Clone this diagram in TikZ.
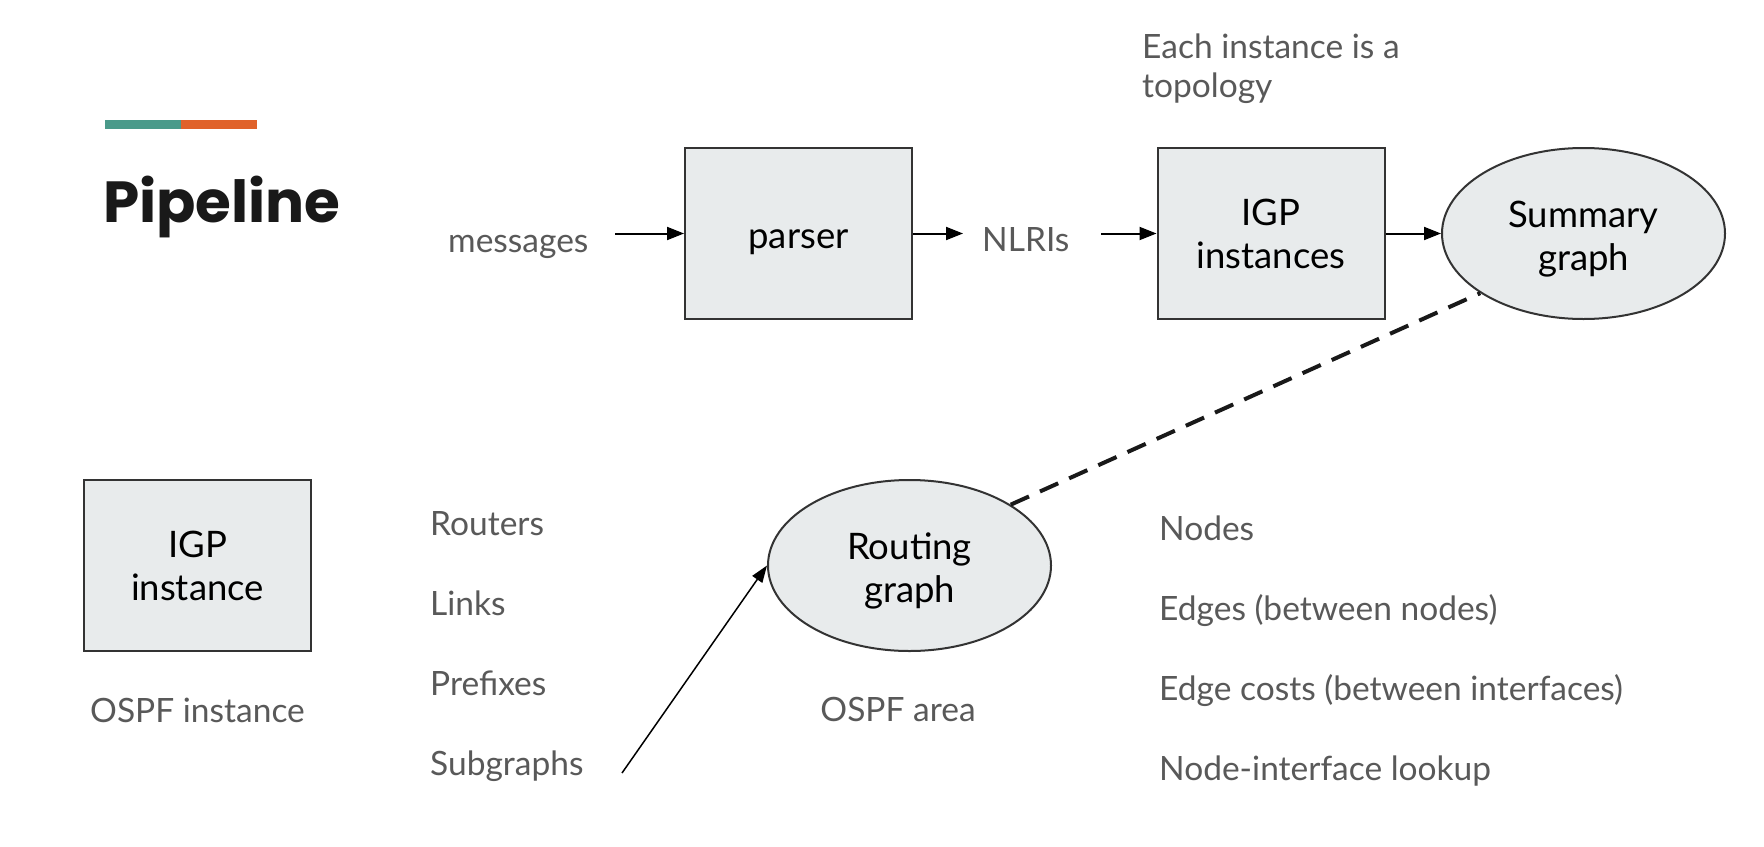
\documentclass[tikz,border=0pt]{standalone}
\usepackage{fontspec}
\setmainfont{Lato}
\newfontfamily\titlefont{Poppins}
\usetikzlibrary{arrows.meta,shapes.geometric}
\definecolor{boxfill}{HTML}{E8EBEC}
\definecolor{boxline}{HTML}{333333}
\definecolor{greytext}{HTML}{595959}
\definecolor{teal}{HTML}{4A9A8A}
\definecolor{orng}{HTML}{E0622A}
\tikzset{
  procbox/.style={draw=boxline, line width=2pt, fill=boxfill, minimum width=227pt, minimum height=171pt, inner sep=0pt, align=center, font=\fontsize{36.5}{43}\selectfont, text=black, text height=79pt, text depth=10pt},
  graphell/.style={ellipse, draw=boxline, line width=2pt, fill=boxfill, minimum width=283pt, minimum height=171pt, inner sep=0pt, align=center, font=\fontsize{36.5}{43}\selectfont, text=black, text height=83pt, text depth=10pt},
  lbl/.style={font=\fontsize{33.5}{39}\selectfont, text=greytext, inner sep=0pt, align=left},
  conn/.style={draw=black, line width=2pt, -{Triangle[length=17pt,width=13pt]}},
  thinconn/.style={draw=black, line width=1.5pt, -{Triangle[length=17pt,width=12pt]}},
  dashconn/.style={draw=black!90, line width=4pt, dash pattern=on 20pt off 12pt}
}
\begin{document}
\begin{tikzpicture}[x=1pt,y=-1pt]
\useasboundingbox[fill=white] (0,0) rectangle (1764,846);
% header bar
\fill[teal] (105,120) rectangle (181,129);
\fill[orng] (181,120) rectangle (257,129);
\node[anchor=base west, inner sep=0pt, font=\titlefont\bfseries\fontsize{58}{60}\selectfont, text=black!90] (title) at (103,222) {Pipeline};
% top pipeline
\node[lbl, anchor=base west] (msg) at (448,252) {messages};
\node[procbox, text height=39pt] (parser) at (798.5,233.5) {parser};
\node[lbl, anchor=base west] (nlri) at (982,251) {NLRIs};
\node[procbox] (igps) at (1271,233.5) {IGP\\instances};
\node[graphell] (summary) at (1583.5,233.5) {Summary\\graph};
\node[lbl, anchor=base west] (each) at (1142,97) {Each instance is a\\topology};
\coordinate (msgend) at (615,233.5);
\coordinate (nlriin) at (963,233.5);
\coordinate (nlriout) at (1101,233.5);
\draw[conn] (msgend) -- (parser.west |- msgend);
\draw[conn] (parser.east |- nlriin) -- (nlriin);
\draw[conn] (nlriout) -- (igps.west |- nlriout);
\draw[conn] (igps.east |- summary.west) -- (summary.west);
% bottom
\node[procbox] (igp) at (197.5,565.5) {IGP\\instance};
\node[lbl, anchor=base] (ospfi) at (197.5,722) {OSPF instance};
\node[lbl, anchor=base west] (routers) at (430,535) {Routers};
\node[lbl, anchor=base west] (links) at (430,615) {Links};
\node[lbl, anchor=base west] (prefixes) at (430,695) {Prefixes};
\node[lbl, anchor=base west] (subgraphs) at (430,775) {Subgraphs};
\node[graphell] (routing) at (909.5,565.5) {Routing\\graph};
\node[lbl, anchor=base] (ospfa) at (898,721) {OSPF area};
\node[lbl, anchor=base west] (nodes) at (1159,540) {Nodes};
\node[lbl, anchor=base west] (edges) at (1159,620) {Edges (between nodes)};
\node[lbl, anchor=base west] (costs) at (1159,700) {Edge costs (between interfaces)};
\node[lbl, anchor=base west] (lookup) at (1159,780) {Node-interface lookup};
\coordinate (subend) at (622,773);
\draw[thinconn] (subend) -- (routing.west);
\draw[dashconn] (routing.31) -- (summary.210);
\end{tikzpicture}
\end{document}
